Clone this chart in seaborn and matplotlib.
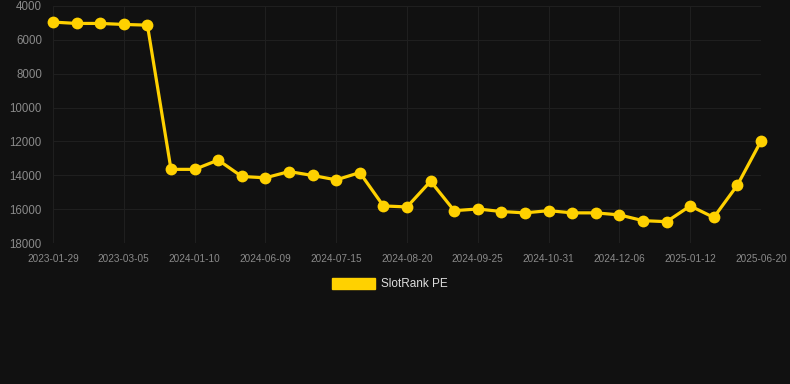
import numpy as np
import pandas as pd
import matplotlib
matplotlib.use('Agg')
import matplotlib.pyplot as plt
import seaborn as sns
from matplotlib.patches import Patch

# rank values (lower is better, axis inverted)
ranks = [4950, 5030, 5030, 5090, 5130,
         13650, 13650, 13100, 14070, 14150,
         13780, 14010, 14270, 13840, 15810,
         15870, 14350, 16090, 15990, 16140,
         16220, 16090, 16220, 16220, 16340,
         16680, 16740, 15810, 16490, 14580,
         11980]
tick_labels = ['2023-01-29', '2023-03-05', '2024-01-10', '2024-06-09',
               '2024-07-15', '2024-08-20', '2024-09-25', '2024-10-31',
               '2024-12-06', '2025-01-12', '2025-06-20']
y_ticks = [4000, 6000, 8000, 10000, 12000, 14000, 16000, 18000]
series_name = 'SlotRank PE'

df = pd.DataFrame({'idx': np.arange(len(ranks)), 'rank': ranks})

bg = '#111111'
grid_c = '#1f1f1f'
line_c = '#FFD100'

sns.set_style('dark')
plt.rcParams['font.family'] = ['Liberation Sans', 'DejaVu Sans']

fig = plt.figure(figsize=(7.9, 3.84), dpi=100, facecolor=bg)
ax = fig.add_axes([53 / 790, 1 - 243 / 384, (761 - 53) / 790, (243 - 6) / 384])
ax.set_facecolor(bg)

sns.lineplot(data=df, x='idx', y='rank', ax=ax, color=line_c, linewidth=2.3,
             marker='o', markersize=8.5, markeredgewidth=0, zorder=3, clip_on=False)

ax.set_xlim(0, len(ranks) - 1)
ax.set_ylim(18000, 4000)
ax.set_xticks(range(0, len(ranks), 3))
ax.set_xticklabels(tick_labels)
ax.set_yticks(y_ticks)
ax.set_yticklabels([str(v) for v in y_ticks])
ax.set_xlabel('')
ax.set_ylabel('')

ax.grid(True, color=grid_c, linewidth=0.8)
for s in ax.spines.values():
    s.set_visible(False)
ax.tick_params(axis='x', colors=grid_c, length=5, width=0.8, labelcolor='#8a8a8a',
               labelsize=7.2, pad=3)
ax.tick_params(axis='y', length=0, labelcolor='#8a8a8a', labelsize=8.3, pad=8)

handle = Patch(facecolor=line_c, edgecolor=line_c)
leg = fig.legend([handle], [series_name], loc='center', bbox_to_anchor=(390 / 790, 1 - 284 / 384),
                 frameon=False, fontsize=8.5, handlelength=3.6, handleheight=1.1,
                 handletextpad=0.5, labelcolor='#dddddd')

fig.savefig('out.png', dpi=100, facecolor=bg)
